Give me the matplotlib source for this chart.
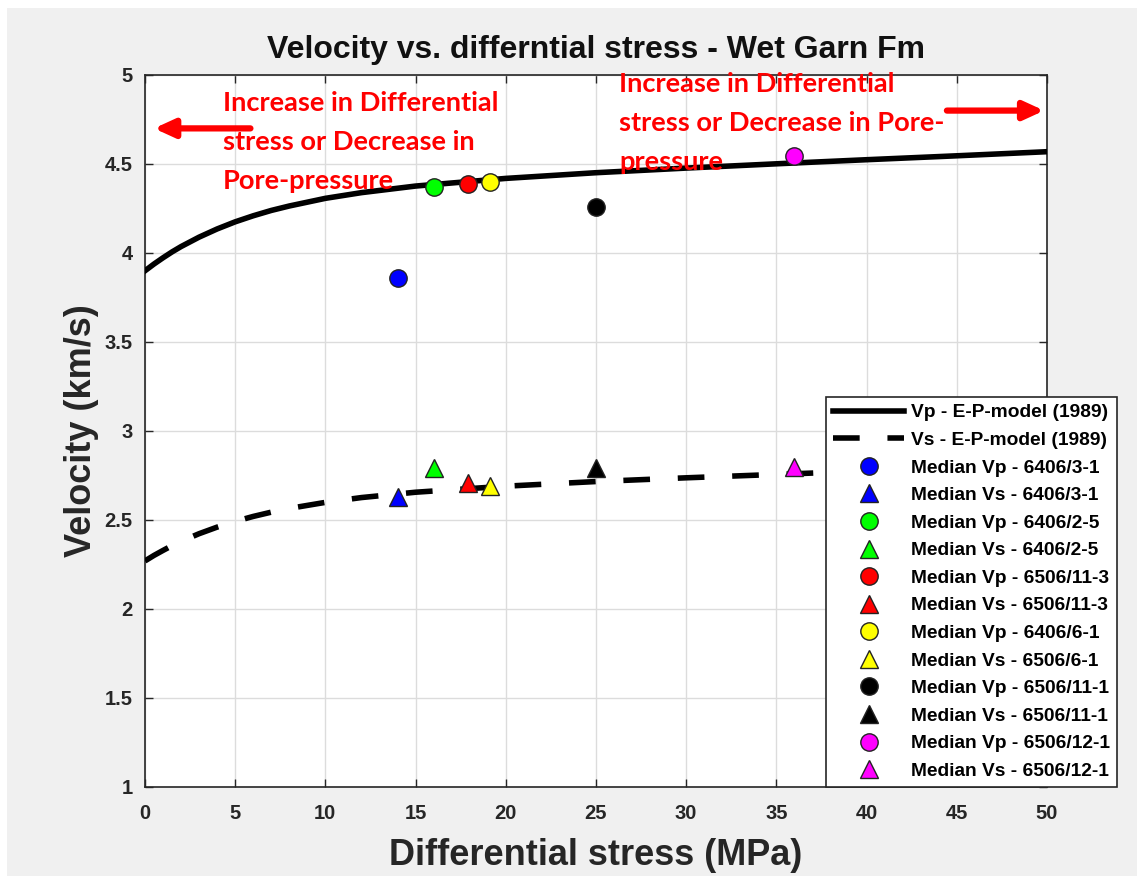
import numpy as np
import matplotlib
matplotlib.use('Agg')
import matplotlib.pyplot as plt
from matplotlib.patches import Rectangle

# model curves (E-P model 1989)
stress = [0, 0.5, 1, 1.5, 2, 3, 4, 5, 6, 7, 8, 10, 12, 15, 20, 25, 30, 35, 40, 45, 50]
vp_model = [3.900, 3.938, 3.973, 4.006, 4.036, 4.089, 4.135, 4.175, 4.209, 4.239, 4.264,
            4.307, 4.339, 4.376, 4.419, 4.451, 4.477, 4.501, 4.524, 4.546, 4.569]
vs_model = [2.270, 2.301, 2.329, 2.356, 2.380, 2.423, 2.460, 2.492, 2.520, 2.544, 2.565,
            2.599, 2.626, 2.656, 2.690, 2.716, 2.737, 2.756, 2.775, 2.793, 2.812]

# median values per well
wells_vp = ['6406/3-1', '6406/2-5', '6506/11-3', '6406/6-1', '6506/11-1', '6506/12-1']
wells_vs = ['6406/3-1', '6406/2-5', '6506/11-3', '6506/6-1', '6506/11-1', '6506/12-1']
well_stress = [14.0, 16.0, 17.9, 19.1, 25.0, 36.0]
median_vp = [3.86, 4.37, 4.39, 4.40, 4.26, 4.545]
median_vs = [2.63, 2.79, 2.71, 2.69, 2.79, 2.80]
colors = ['#0000ff', '#00ff00', '#ff0000', '#ffff00', '#000000', '#ff00ff']

fig = plt.figure(figsize=(11.37, 8.76), dpi=100, facecolor='white')
fig.patches.append(Rectangle((0.006, 0), 0.994, 0.991, transform=fig.transFigure,
                             facecolor='#f0f0f0', edgecolor='none', zorder=-10))
ax = fig.add_axes([0.1275, 0.1016, 0.7933, 0.8128])
ax.set_facecolor('white')

ax.plot(stress, vp_model, color='black', lw=4, label='Vp - E-P-model (1989)', zorder=3)
ax.plot(stress, vs_model, color='black', lw=4, linestyle=(0, (4.8, 5)), dash_capstyle='butt',
        label='Vs - E-P-model (1989)', zorder=3)

for i in range(len(well_stress)):
    ax.plot(well_stress[i], median_vp[i], 'o', ms=12.5, mfc=colors[i], mec='#222222', mew=1.0,
            ls='none', label='Median Vp - ' + wells_vp[i], zorder=4)
    ax.plot(well_stress[i], median_vs[i], '^', ms=13, mfc=colors[i], mec='#222222', mew=1.0,
            ls='none', label='Median Vs - ' + wells_vs[i], zorder=4)

ax.set_xlim(0, 50)
ax.set_ylim(1, 5)
ax.set_xticks(np.arange(0, 51, 5))
ax.set_yticks(np.arange(1, 5.01, 0.5))
ax.set_yticklabels(['1', '1.5', '2', '2.5', '3', '3.5', '4', '4.5', '5'])
ax.grid(True, color='#dcdcdc', lw=1)
ax.set_axisbelow(True)
ax.tick_params(direction='in', top=True, right=True, length=6, width=1, color='#262626',
               labelsize=14.5, labelcolor='#262626')
ax.tick_params(axis='x', pad=12)
ax.tick_params(axis='y', pad=9)
for lab in ax.get_xticklabels() + ax.get_yticklabels():
    lab.set_fontfamily('Liberation Sans')
    lab.set_fontweight('bold')
for sp in ax.spines.values():
    sp.set_color('#262626')
    sp.set_linewidth(1.2)

ax.set_title('Velocity vs. differntial stress - Wet Garn Fm', fontsize=23, fontweight='bold',
             family='Liberation Sans', color='#111111', pad=12)
ax.set_xlabel('Differential stress (MPa)', fontsize=26, fontweight='bold',
              family='Liberation Sans', color='#262626', labelpad=11)
ax.set_ylabel('Velocity (km/s)', fontsize=26, fontweight='bold',
              family='Liberation Sans', color='#262626', labelpad=4)

ax.text(4.3, 4.91, 'Increase in Differential\nstress or Decrease in\nPore-pressure', color='red',
        fontsize=19.6, fontweight='bold', family='Lato', va='top', ha='left', linespacing=1.74,
        zorder=5)
ax.text(26.3, 5.015, 'Increase in Differential\nstress or Decrease in Pore-\npressure', color='red',
        fontsize=19.6, fontweight='bold', family='Lato', va='top', ha='left', linespacing=1.74,
        zorder=5, clip_on=False)
ax.annotate('', xy=(0.35, 4.70), xytext=(6.0, 4.70),
            arrowprops=dict(arrowstyle='-|>,head_length=1.2,head_width=0.55', color='red', lw=4.5))
ax.annotate('', xy=(50.0, 4.80), xytext=(44.3, 4.80), annotation_clip=False,
            arrowprops=dict(arrowstyle='-|>,head_length=1.2,head_width=0.55', color='red', lw=4.5))

leg = ax.legend(loc='lower left', bbox_to_anchor=(0.7265, 0.1016), bbox_transform=fig.transFigure,
                prop={'family': 'Liberation Sans', 'weight': 'bold', 'size': 13.8},
                frameon=True, fancybox=False, edgecolor='#262626', facecolor='white', framealpha=1,
                handlelength=3.7, handletextpad=0.36, labelspacing=0.53, borderpad=0.37,
                borderaxespad=0)
leg.get_frame().set_linewidth(1.2)

fig.savefig('out.png', dpi=100, facecolor=fig.get_facecolor())
